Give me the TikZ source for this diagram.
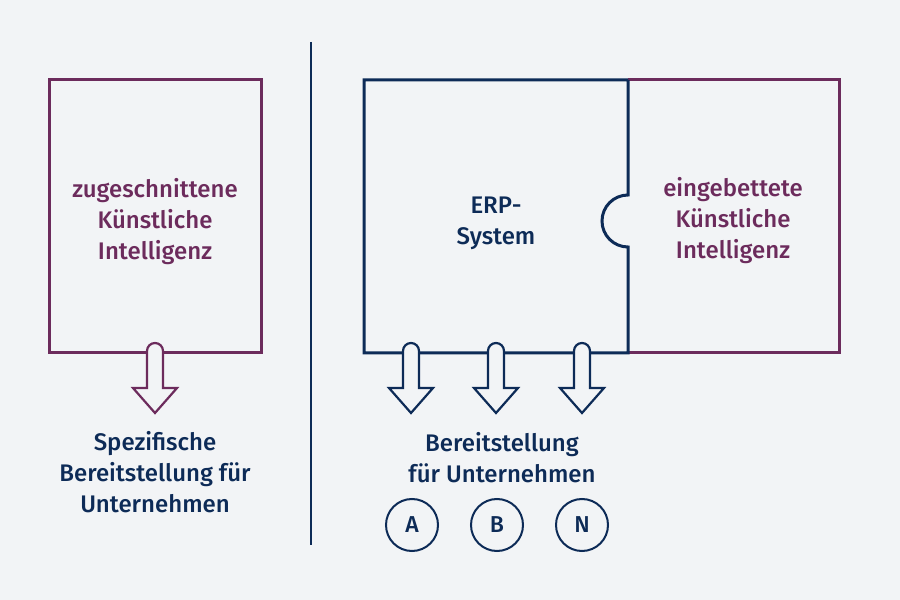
\documentclass[tikz,border=0pt]{standalone}
\usepackage{fontspec}
\setmainfont{Fira Sans}[UprightFont=* Medium, BoldFont=* SemiBold]
\usepackage{tikz}

\definecolor{bgcol}{HTML}{F2F4F6}
\definecolor{navy}{HTML}{0D2B57}
\definecolor{kipurple}{HTML}{6C2B5C}

\tikzset{
    label text/.style={align=center, font=\fontsize{24}{31}\selectfont, inner sep=0pt},
    letter circle/.style={circle, draw=navy, line width=2pt, minimum size=52pt, inner sep=0pt, text=navy, font=\fontsize{23}{25}\selectfont},
    block arrow/.style={fill=bgcol, line width=2.2pt, line join=miter}
}

% block arrow pointing down, top of stem at y=257
\newcommand{\downarrowat}[2]{%
    \draw [block arrow, draw=#2] (#1-8,212) -- (#1-8,249) arc[start angle=180, end angle=0, radius=8]
        -- (#1+8,212) -- (#1+22,212) -- (#1,187) -- (#1-22,212) -- cycle;
}

\begin{document}
\begin{tikzpicture}[x=1pt, y=1pt]
        \fill[bgcol] (0,0) rectangle (900,600);
        \useasboundingbox (0,0) rectangle (900,600);
        % left side
        \node(kibox) at (155,383.5) [rectangle, draw=kipurple, line width=3pt, minimum width=212pt, minimum height=273pt] {};
        \node(kitext) at (155,378) [label text, text=kipurple] {zugeschnittene\\Künstliche\\Intelligenz};
        \downarrowat{155}{kipurple}
        \node(spez) at (155,128) [label text, text=navy] {Spezifische\\Bereitstellung für\\Unternehmen};
        % separator
        \draw [navy, line width=1.2pt] (311,558) -- (311,55);
        % right side
        \draw [kipurple, line width=3pt] (628,520) -- (839,520) -- (839,247) -- (628,247);
        \draw [navy, line width=3pt, line join=miter] (628,520) -- (364,520) -- (364,247) -- (628,247) -- (628,353)
            arc[start angle=-90, end angle=-270, radius=26] -- (628,520);
        \node(erp) at (496,377) [label text, text=navy] {ERP-\\System};
        \node(eingebettet) at (733,379) [label text, text=kipurple] {eingebettete\\Künstliche\\Intelligenz};
        \downarrowat{411}{navy}
        \downarrowat{496}{navy}
        \downarrowat{582}{navy}
        \node(bereit) at (502,142.5) [label text, text=navy] {Bereitstellung\\für Unternehmen};
        \node(a) at (412,75) [letter circle] {A};
        \node(b) at (497,75) [letter circle] {B};
        \node(n) at (582,75) [letter circle] {N};
    \end{tikzpicture}
\end{document}
